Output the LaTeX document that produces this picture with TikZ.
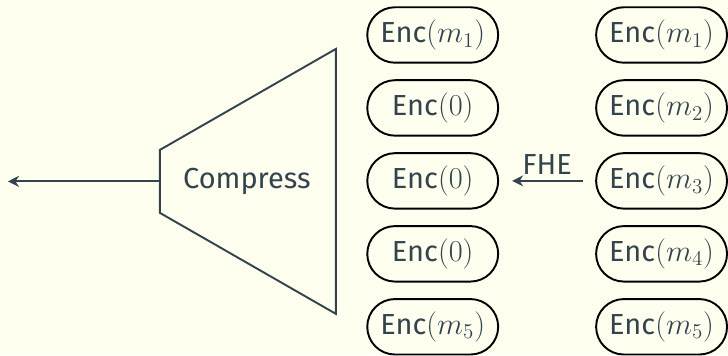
\documentclass[tikz,border=0pt]{standalone}
\usepackage{fontspec}
\setmainfont{Fira Sans}
\setsansfont{Fira Sans}
\usetikzlibrary{shapes.misc, arrows.meta}

\definecolor{paper}{HTML}{FFFFF0}
\definecolor{darkteal}{HTML}{34444E}

\begin{document}
\begin{tikzpicture}[font=\fontsize{16.5}{20}\selectfont, color=darkteal,
    enc/.style={rounded rectangle, draw=black, line width=1.1pt, text=darkteal,
      minimum width=2.62cm, minimum height=1.11cm, inner sep=0pt},
    wire/.style={line width=1.1pt, -{Stealth[length=2.2mm, width=2.2mm, inset=0.7mm]}}]
          % page and its margins
          \fill[paper] (0,0) rectangle (14.56,7.1);
          % the compressor
          \coordinate (tl) at (3.2,4.1);
          \coordinate (tr) at (6.72,6.12);
          \coordinate (br) at (6.72,0.82);
          \coordinate (bl) at (3.2,2.84);
          \coordinate (mouth) at (3.2,3.47);
          \coordinate (out) at (0.16,3.47);
          \draw[line width=1.1pt, line join=miter] (tl) -- (tr) -- (br) -- (bl) -- cycle;
          \node (comp) at (4.94,3.47) {Compress};
          \draw[wire] (mouth) -- (out);
          % ciphertexts before and after FHE
          \foreach \i/\t in {1/m_1,2/0,3/0,4/0,5/m_5}{
            \node[enc] (l\i) at (8.66,{7.86-1.46*\i}) {Enc$(\t)$};}
          \foreach \i in {1,...,5}{
            \node[enc] (r\i) at (13.24,{7.86-1.46*\i}) {Enc$(m_{\i})$};}
          \draw[wire, shorten <=0.24cm, shorten >=0.26cm] (r3.west) -- node[above] (fhe) {FHE} (l3.east);
        \end{tikzpicture}
\end{document}
